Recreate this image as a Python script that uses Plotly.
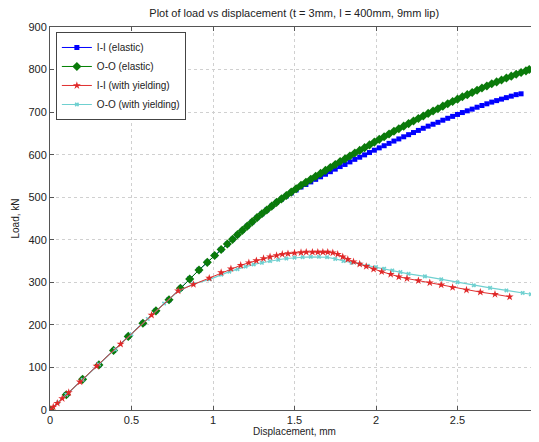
import plotly.graph_objects as go

# ---- data ----
oo_el_x = [0, 0.1, 0.2, 0.3, 0.39, 0.48, 0.57, 0.65, 0.73, 0.80, 0.857, 0.914, 0.965, 1.01, 1.05, 1.088, 1.12,
           1.15, 1.18, 1.21, 1.24, 1.27, 1.30, 1.33, 1.36, 1.39, 1.42, 1.45, 1.48, 1.51, 1.54, 1.57, 1.60,
           1.63, 1.66, 1.69, 1.72, 1.75, 1.78, 1.81, 1.84, 1.87, 1.90, 1.93, 1.96, 1.99, 2.02, 2.05, 2.08,
           2.11, 2.14, 2.17, 2.20, 2.23, 2.26, 2.29, 2.32, 2.35, 2.38, 2.41, 2.44, 2.47, 2.50, 2.53, 2.56,
           2.59, 2.62, 2.65, 2.68, 2.71, 2.74, 2.77, 2.80, 2.83, 2.86, 2.89, 2.92, 2.94]
oo_el_y = [0, 36, 72, 106, 140, 173, 204, 233, 259, 286, 308, 329, 347, 363, 377, 390, 401,
           412, 422, 432, 442, 452, 461, 470, 479, 488, 496, 504, 512, 520, 528, 535, 542,
           549, 556, 563, 570, 577, 584, 590, 597, 604, 610, 616.5, 623, 629.5, 636, 642, 648.5,
           655, 661, 667, 673, 679, 685, 691, 697, 702.5, 708, 714, 719.5, 725, 730.5, 736, 741,
           746, 751.5, 756.5, 761.5, 766.5, 771, 775.5, 780, 784.5, 789, 793, 797, 800]

ii_el_x = [0, 0.1, 0.2, 0.3, 0.39, 0.48, 0.57, 0.65, 0.73, 0.80, 0.857, 0.914, 0.965, 1.01, 1.05, 1.088, 1.12,
           1.15, 1.18, 1.21, 1.24, 1.27, 1.30, 1.33, 1.36, 1.39, 1.42, 1.45, 1.48, 1.51, 1.54, 1.57, 1.60,
           1.63, 1.66, 1.69, 1.72, 1.75, 1.78, 1.81, 1.84, 1.87, 1.90, 1.93, 1.96, 1.99, 2.02, 2.05, 2.08,
           2.11, 2.14, 2.17, 2.20, 2.23, 2.26, 2.29, 2.32, 2.35, 2.38, 2.41, 2.44, 2.47, 2.50, 2.53, 2.56,
           2.59, 2.62, 2.65, 2.68, 2.71, 2.74, 2.77, 2.80, 2.83, 2.86, 2.89]
ii_el_y = [0, 36, 72, 106, 140, 173, 204, 233, 259, 286, 308, 329, 347, 363, 377, 390, 401,
           412, 422, 432, 442, 452, 461, 470, 479, 488, 495.5, 503, 510, 517, 524, 530, 536,
           542, 548, 554, 560, 566, 572, 577, 583, 589, 594, 599.5, 605, 610.5, 616, 621, 626.5,
           632, 637, 642, 647, 652, 657, 662, 667, 671.5, 676, 681, 685.5, 690, 694.5, 699, 703,
           707, 711.5, 715.5, 719.5, 723.5, 727, 730.5, 734, 737.5, 741, 743]

ii_yd_x = [0, 0.02, 0.045, 0.075, 0.115, 0.184, 0.286, 0.433, 0.623, 0.786, 0.88, 0.977, 1.05, 1.11, 1.17,
           1.22, 1.266, 1.31, 1.35, 1.39, 1.425, 1.46, 1.50, 1.54, 1.572, 1.61, 1.643, 1.674, 1.704, 1.735,
           1.765, 1.796, 1.827, 1.862, 1.90, 1.94, 1.985, 2.035, 2.09, 2.14, 2.19, 2.26, 2.33, 2.40, 2.47,
           2.555, 2.64, 2.73, 2.82]
ii_yd_y = [0, 7, 16, 27, 41, 66, 103, 155, 223, 280, 295, 310, 323, 332, 340,
           346, 351, 356, 360, 363, 366, 367.5, 369, 370, 371, 371, 371, 371, 371, 369.5,
           366, 360, 354, 348.5, 343, 337.5, 331, 325, 319, 313, 309, 304, 299, 294, 288,
           282, 277, 272, 266]

oo_yd_x = [0, 0.05, 0.1, 0.2, 0.3, 0.4, 0.5, 0.6, 0.7, 0.79, 0.88, 0.98, 1.05, 1.1, 1.15, 1.2, 1.25, 1.3,
           1.35, 1.4, 1.45, 1.5, 1.55, 1.6, 1.65, 1.7, 1.75, 1.8, 1.85, 1.9, 1.95, 2.0, 2.05, 2.1, 2.15,
           2.2, 2.3, 2.4, 2.5, 2.6, 2.7, 2.8, 2.9, 2.95]
oo_yd_y = [0, 18, 36, 71, 107, 142, 178, 214, 250, 280, 296, 307, 318, 325, 331, 337, 342, 346,
           350, 353, 356, 358, 359, 360, 360, 359, 355, 350, 346, 343, 339, 336, 332, 328, 324,
           320, 314, 307, 300, 293, 287, 281, 275, 272]

x_ticks = [0, 0.5, 1, 1.5, 2, 2.5, 3]
x_tick_labels = ["0", "0.5", "1", "1.5", "2", "2.5", "3"]
y_ticks = [0, 100, 200, 300, 400, 500, 600, 700, 800, 900]

FONT = "Liberation Sans, Arial, sans-serif"

fig = go.Figure()
fig.add_trace(go.Scatter(x=ii_el_x, y=ii_el_y, name="I-I (elastic)", mode="lines+markers",
                         line=dict(color="#0000FF", width=1),
                         marker=dict(symbol="square", size=5, color="#0000FF")))
fig.add_trace(go.Scatter(x=oo_el_x, y=oo_el_y, name="O-O (elastic)", mode="lines+markers",
                         line=dict(color="#008000", width=1),
                         marker=dict(symbol="diamond", size=7, color="#0A7A0A")))
fig.add_trace(go.Scatter(x=oo_yd_x, y=oo_yd_y, name="O-O (with yielding)", mode="lines+markers",
                         line=dict(color="#6FD0D0", width=1.2),
                         marker=dict(symbol="x", size=4, color="#6FD0D0"), showlegend=False))
fig.add_trace(go.Scatter(x=ii_yd_x, y=ii_yd_y, name="I-I (with yielding)", mode="lines+markers",
                         line=dict(color="#E03030", width=1),
                         marker=dict(symbol="star", size=6, color="#E02828")))
fig.add_trace(go.Scatter(x=[None], y=[None], name="O-O (with yielding)", mode="lines+markers",
                         line=dict(color="#6FD0D0", width=1.2),
                         marker=dict(symbol="x", size=4, color="#6FD0D0")))

axis_common = dict(showgrid=True, gridcolor="#D0D0D0", griddash="dot", gridwidth=1,
                   showline=True, linecolor="#555555", linewidth=1, mirror="ticks",
                   ticks="inside", ticklen=4, tickcolor="#555555", zeroline=False,
                   tickfont=dict(family=FONT, size=11, color="#222222"))

# the page body has an 8px default margin; the figure is sized/offset to compensate
fig.update_layout(
    width=531, height=434,
    paper_bgcolor="white", plot_bgcolor="white",
    margin=dict(l=42, r=0, t=19, b=32, autoexpand=False),
    font=dict(family=FONT, size=10, color="#222222"),
    title=dict(text="Plot of load vs displacement (t = 3mm, l = 400mm, 9mm lip)",
               x=0.539, xanchor="center", y=0.988, yanchor="middle",
               font=dict(family=FONT, size=11, color="#222222")),
    xaxis=dict(range=[0, 3], tickvals=x_ticks, ticktext=x_tick_labels,
               title=dict(text="Displacement, mm", standoff=2,
                          font=dict(family=FONT, size=10, color="#222222")),
               **axis_common),
    yaxis=dict(range=[0, 900], tickvals=y_ticks,
               title=dict(text="Load, kN", standoff=6,
                          font=dict(family=FONT, size=10, color="#222222")),
               **axis_common),
    legend=dict(x=0.012, y=0.987, xanchor="left", yanchor="top",
                bgcolor="white", bordercolor="#444444", borderwidth=1,
                font=dict(family=FONT, size=10, color="#222222"),
                tracegroupgap=0, itemwidth=30),
    showlegend=True,
)

fig.write_html("out.html")
